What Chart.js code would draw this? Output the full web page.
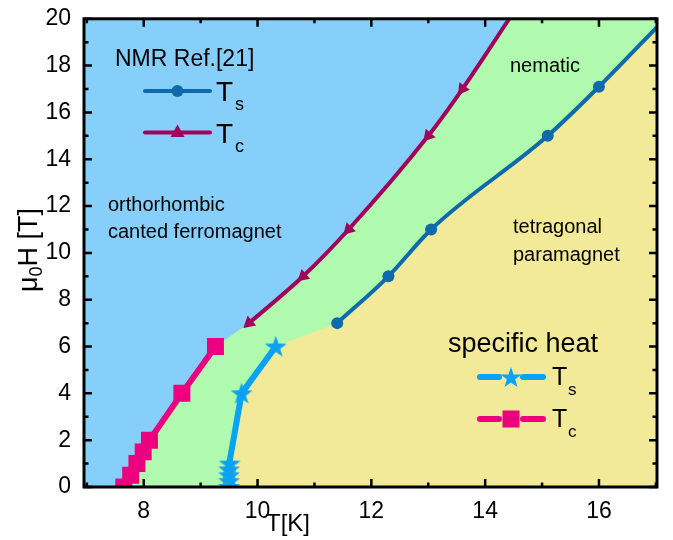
<!DOCTYPE html>
<html>
<head>
<meta charset="utf-8">
<script src="https://cdn.jsdelivr.net/npm/chart.js@4.4.0/dist/chart.umd.min.js"></script>
<style>
  html, body { margin: 0; padding: 0; background: #fff; }
  #wrap { width: 673px; height: 540px; }
</style>
</head>
<body>
<div id="wrap"><canvas id="chart" width="673" height="540"></canvas></div>
<script>
// NMR Ref.[21] transitions (last point = line running out of the frame)
const nmrTsT = [11.4, 12.3, 13.05, 15.1, 16.0, 17.1];
const nmrTsH = [7, 9, 11, 15, 17.1, 19.85];
const nmrTcT = [9.85, 10.8, 11.6, 13.0, 13.6, 14.45];
const nmrTcH = [7, 9, 11, 15, 17, 20.1];

// specific heat transitions
const shTsT = [9.5, 9.5, 9.5, 9.5, 9.51, 9.72, 10.32];
const shTsH = [0, 0.25, 0.5, 0.75, 1, 4, 6];
const shTcT = [7.65, 7.77, 7.88, 7.99, 8.1, 8.67, 9.26];
const shTcH = [0, 0.5, 1, 1.5, 2, 4, 6];

const xTicks = [8, 10, 12, 14, 16];
const yTicks = [0, 2, 4, 6, 8, 10, 12, 14, 16, 18, 20];
const xMin = 6.95, xMax = 17.02, yMin = 0, yMax = 20;

const FONT = "'Liberation Sans', Arial, sans-serif";
const C_BLUE = '#86cffb', C_GREEN = '#affaae', C_YELLOW = '#f2ea98';
const C_NMR_TS = '#0f6aab', C_NMR_TC = '#a1005b';
const C_SH_TS = '#0aa3f3', C_SH_TC = '#ec0080';

const pts = (xs, ys) => xs.map((x, i) => ({ x: x, y: ys[i] }));

function starPath(ctx, cx, cy, R, r) {
  ctx.beginPath();
  for (let i = 0; i < 10; i++) {
    const a = -Math.PI / 2 + i * Math.PI / 5;
    const rad = i % 2 ? r : R;
    ctx.lineTo(cx + rad * Math.cos(a), cy + rad * Math.sin(a));
  }
  ctx.closePath();
}

// filled five point star as point style
const starImg = document.createElement('canvas');
starImg.width = 24; starImg.height = 24;
(function () {
  const c = starImg.getContext('2d');
  c.fillStyle = C_SH_TS;
  starPath(c, 12, 12.8, 11.5, 4.6);
  c.fill();
})();

const lastHidden = r => ctx => ctx.dataIndex === ctx.dataset.data.length - 1 ? 0 : r;

// rotate NMR triangles along the line, pointing to lower T
function triRot(ctx) {
  const i = ctx.dataIndex;
  if (i === undefined) return 0;
  const d = ctx.dataset.data, sc = ctx.chart.scales;
  const j = Math.max(i - 1, 0);
  const a = d[j], b = d[j + 1];
  const dx = sc.x.getPixelForValue(a.x) - sc.x.getPixelForValue(b.x);
  const dy = sc.y.getPixelForValue(a.y) - sc.y.getPixelForValue(b.y);
  return Math.atan2(dx, -dy) * 180 / Math.PI;
}

// invisible area dataset filled down to H = 0
function area(label, data, color, order, curved) {
  return {
    label: label,
    data: data,
    showLine: true,
    fill: 'origin',
    backgroundColor: color,
    borderWidth: 0,
    borderColor: 'rgba(0,0,0,0)',
    pointRadius: 0,
    cubicInterpolationMode: curved ? 'monotone' : 'default',
    clip: 0,
    order: order
  };
}

const phasePlugin = {
  id: 'phase',
  beforeDraw(chart) {
    const { ctx, chartArea: a } = chart;
    ctx.save();
    ctx.fillStyle = C_BLUE;
    ctx.fillRect(a.left, a.top, a.right - a.left, a.bottom - a.top);
    ctx.restore();
  },
  afterDraw(chart) {
    const { ctx, chartArea: a, scales } = chart;
    ctx.save();

    // frame + inward ticks
    ctx.strokeStyle = '#000';
    ctx.lineWidth = 2.5;
    for (let v = Math.ceil(xMin); v <= xMax; v++) {
      const px = scales.x.getPixelForValue(v);
      const len = xTicks.includes(v) ? 8 : 4.5;
      ctx.beginPath();
      ctx.moveTo(px, a.bottom); ctx.lineTo(px, a.bottom - len);
      ctx.moveTo(px, a.top); ctx.lineTo(px, a.top + len);
      ctx.stroke();
    }
    for (let v = yMin; v <= yMax; v++) {
      const py = scales.y.getPixelForValue(v);
      const len = yTicks.includes(v) ? 8 : 4.5;
      ctx.beginPath();
      ctx.moveTo(a.left, py); ctx.lineTo(a.left + len, py);
      ctx.moveTo(a.right, py); ctx.lineTo(a.right - len, py);
      ctx.stroke();
    }
    ctx.lineWidth = 3;
    ctx.strokeRect(a.left, a.top, a.right - a.left, a.bottom - a.top);

    // region labels
    ctx.fillStyle = '#000';
    ctx.textBaseline = 'alphabetic';
    ctx.textAlign = 'left';
    ctx.font = '20px ' + FONT;
    ctx.fillText('orthorhombic', 108, 211);
    ctx.fillText('canted ferromagnet', 108, 238);
    ctx.fillText('nematic', 510, 72);
    ctx.fillText('tetragonal', 513, 233);
    ctx.fillText('paramagnet', 513, 261);

    // legend: NMR
    ctx.font = '23px ' + FONT;
    ctx.fillText('NMR Ref.[21]', 115, 66);
    ctx.lineCap = 'round';
    ctx.lineWidth = 4;
    ctx.strokeStyle = C_NMR_TS;
    ctx.beginPath(); ctx.moveTo(145, 91); ctx.lineTo(210, 91); ctx.stroke();
    ctx.fillStyle = C_NMR_TS;
    ctx.beginPath(); ctx.arc(177.5, 91, 6, 0, Math.PI * 2); ctx.fill();
    ctx.strokeStyle = C_NMR_TC;
    ctx.beginPath(); ctx.moveTo(145, 132.5); ctx.lineTo(210, 132.5); ctx.stroke();
    ctx.fillStyle = C_NMR_TC;
    ctx.beginPath();
    ctx.moveTo(177.5, 124.5); ctx.lineTo(184.5, 137); ctx.lineTo(170.5, 137);
    ctx.closePath(); ctx.fill();
    ctx.fillStyle = '#000';
    ctx.font = '28px ' + FONT;
    ctx.fillText('T', 216, 101);
    ctx.fillText('T', 216, 143);
    ctx.font = '18px ' + FONT;
    ctx.fillText('s', 235, 109.5);
    ctx.fillText('c', 235, 151.5);

    // legend: specific heat
    ctx.font = '27px ' + FONT;
    ctx.fillText('specific heat', 448, 352);
    ctx.lineWidth = 6;
    ctx.strokeStyle = C_SH_TS;
    ctx.beginPath();
    ctx.moveTo(480, 377); ctx.lineTo(499, 377);
    ctx.moveTo(523, 377); ctx.lineTo(543, 377);
    ctx.stroke();
    ctx.fillStyle = C_SH_TS;
    starPath(ctx, 511, 378, 11, 4.4); ctx.fill();
    ctx.strokeStyle = C_SH_TC;
    ctx.beginPath();
    ctx.moveTo(480, 419); ctx.lineTo(499, 419);
    ctx.moveTo(523, 419); ctx.lineTo(543, 419);
    ctx.stroke();
    ctx.fillStyle = C_SH_TC;
    ctx.fillRect(502.5, 410.5, 17, 17);
    ctx.fillStyle = '#000';
    ctx.font = '25px ' + FONT;
    ctx.fillText('T', 552, 385);
    ctx.fillText('T', 552, 427);
    ctx.font = '17px ' + FONT;
    ctx.fillText('s', 568, 395);
    ctx.fillText('c', 568, 437);

    // axis titles
    ctx.font = '24px ' + FONT;
    ctx.textAlign = 'center';
    ctx.fillText('T[K]', 288, 531);

    ctx.translate(37, 250);
    ctx.rotate(-Math.PI / 2);
    ctx.textAlign = 'left';
    ctx.font = '27px ' + FONT;
    const wMu = ctx.measureText('\u03bc').width;
    const wRest = ctx.measureText('H [T]').width;
    ctx.font = '18px ' + FONT;
    const wSub = ctx.measureText('0').width;
    const x0 = -(wMu + wSub + wRest) / 2;
    ctx.font = '27px ' + FONT;
    ctx.fillText('\u03bc', x0, 0);
    ctx.fillText('H [T]', x0 + wMu + wSub, 0);
    ctx.font = '18px ' + FONT;
    ctx.fillText('0', x0 + wMu, 5);

    ctx.restore();
  }
};

const nmrTs = pts(nmrTsT, nmrTsH), nmrTc = pts(nmrTcT, nmrTcH);
const shTs = pts(shTsT, shTsH), shTc = pts(shTcT, shTcH);
const nTc = nmrTc.length;

new Chart(document.getElementById('chart'), {
  type: 'scatter',
  data: {
    datasets: [
      {
        label: 'NMR Ts',
        data: nmrTs,
        showLine: true,
        cubicInterpolationMode: 'monotone',
        borderColor: C_NMR_TS,
        backgroundColor: C_NMR_TS,
        borderWidth: 4,
        pointStyle: 'circle',
        pointRadius: lastHidden(6),
        pointBorderWidth: 0,
        clip: 0,
        order: 2
      },
      {
        label: 'NMR Tc',
        data: nmrTc,
        showLine: true,
        cubicInterpolationMode: 'monotone',
        borderColor: C_NMR_TC,
        backgroundColor: C_NMR_TC,
        borderWidth: 4,
        pointStyle: 'triangle',
        pointRadius: lastHidden(7.5),
        pointRotation: triRot,
        pointBorderWidth: 0,
        clip: 0,
        order: 2
      },
      {
        label: 'specific heat Ts',
        data: shTs,
        showLine: true,
        borderColor: C_SH_TS,
        backgroundColor: C_SH_TS,
        borderWidth: 6,
        borderCapStyle: 'round',
        borderJoinStyle: 'round',
        pointStyle: starImg,
        pointRadius: 10,
        clip: 0,
        order: 1
      },
      {
        label: 'specific heat Tc',
        data: shTc,
        showLine: true,
        borderColor: C_SH_TC,
        backgroundColor: C_SH_TC,
        borderWidth: 6,
        borderCapStyle: 'round',
        borderJoinStyle: 'round',
        pointStyle: 'rect',
        pointRadius: 12,
        pointBorderWidth: 0,
        clip: 0,
        order: 1
      },
      // nematic region: right of the Tc boundary (pieces overlap by one segment, no seams)
      area('nematic a', shTc.concat(nmrTc.slice(0, 2)), C_GREEN, 10, false),
      area('nematic b', nmrTc, C_GREEN, 10, true),
      area('nematic c', nmrTc.slice(nTc - 2).concat([{ x: xMax + 1, y: yMax + 1 }]), C_GREEN, 10, false),
      // tetragonal paramagnet: right of the Ts boundary
      area('tetragonal a', shTs.concat(nmrTs.slice(0, 2)), C_YELLOW, 9, false),
      area('tetragonal b', nmrTs, C_YELLOW, 9, true)
    ]
  },
  options: {
    responsive: false,
    animation: false,
    devicePixelRatio: 1,
    layout: { padding: { left: 0, right: 13, top: 18, bottom: 0 } },
    plugins: { legend: { display: false }, tooltip: { enabled: false } },
    scales: {
      x: {
        type: 'linear',
        min: xMin,
        max: xMax,
        afterBuildTicks: s => { s.ticks = xTicks.map(v => ({ value: v })); },
        afterFit: s => { s.height = 53; },
        grid: { display: false },
        border: { display: false },
        ticks: { color: '#000', font: { family: FONT, size: 23 }, padding: 3, maxRotation: 0, autoSkip: false }
      },
      y: {
        type: 'linear',
        min: yMin,
        max: yMax,
        afterBuildTicks: s => { s.ticks = yTicks.map(v => ({ value: v })); },
        afterFit: s => { s.width = 84; },
        grid: { display: false },
        border: { display: false },
        ticks: { color: '#000', font: { family: FONT, size: 23 }, padding: 5, autoSkip: false }
      }
    }
  },
  plugins: [phasePlugin]
});
</script>
</body>
</html>
